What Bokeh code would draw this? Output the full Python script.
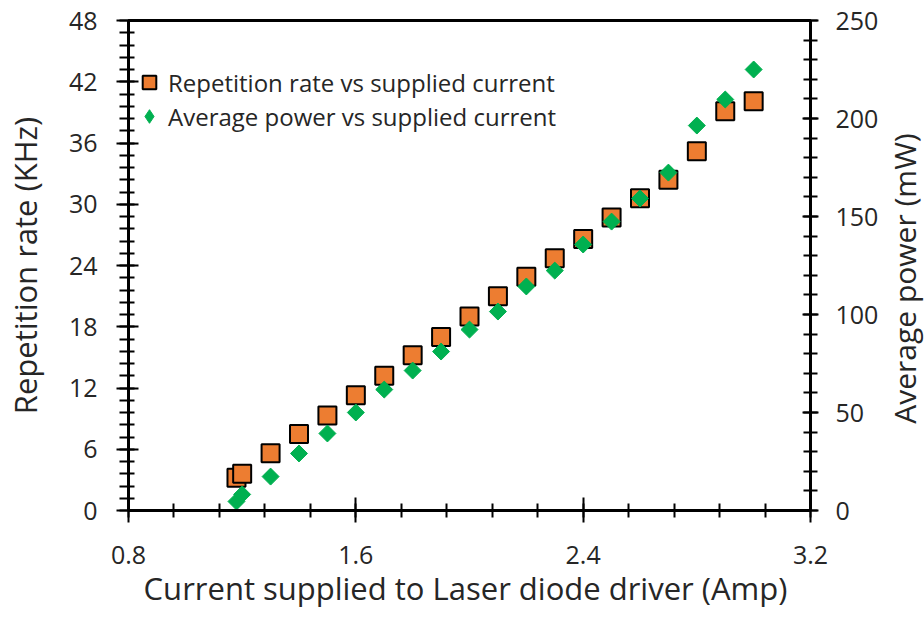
import math
from bokeh.plotting import figure
from bokeh.models import (Range1d, LinearAxis, FixedTicker, Legend, LegendItem,
                          ColumnDataSource, Label)
from bokeh.layouts import row
from bokeh.embed import file_html
from bokeh.resources import INLINE

# ---- data ----
current = [1.18, 1.2, 1.3, 1.4, 1.5, 1.6, 1.7, 1.8, 1.9, 2.0, 2.1, 2.2, 2.3,
           2.4, 2.5, 2.6, 2.7, 2.8, 2.9, 3.0]
rep_rate = [3.2, 3.6, 5.6, 7.5, 9.3, 11.3, 13.2, 15.2, 17.0, 19.0, 21.0, 22.9,
            24.7, 26.6, 28.7, 30.6, 32.4, 35.2, 39.1, 40.1]
avg_power = [4.6, 8.2, 17.3, 29.1, 39.3, 50.0, 61.7, 71.4, 81.1, 92.3, 101.5,
             114.3, 122.4, 135.7, 147.4, 159.2, 172.4, 196.4, 209.7, 225.0]

x_ticks = [0.8, 1.6, 2.4, 3.2]
left_ticks = [0, 6, 12, 18, 24, 30, 36, 42, 48]
right_ticks = [0, 50, 100, 150, 200, 250]

label_rep = "Repetition rate vs supplied current"
label_pow = "Average power vs supplied current"
x_title = "Current supplied to Laser diode driver  (Amp)"
y_title = "Repetition rate (KHz)"
y2_title = "Average power (mW)"

FONT = "Open Sans"
TXT = "#262626"

H = 620
W_MAIN, W_SIDE = 884, 40
BL, BR, BT, BB = 126, 74, 20, 110
FW, FH = W_MAIN - BL - BR, H - BT - BB

p = figure(width=W_MAIN, height=H, output_backend="svg", toolbar_location=None,
           x_range=Range1d(0.8, 3.2), y_range=Range1d(0, 48),
           min_border_left=BL, min_border_right=BR,
           min_border_top=BT, min_border_bottom=BB)
p.extra_y_ranges = {"power": Range1d(0, 250)}
p.grid.visible = False
p.outline_line_color = "black"
p.outline_line_width = 3

x_minor = [round(0.8 + 0.16 * i, 4) for i in range(16)]
l_minor = [round(1.2 * i, 4) for i in range(41)]
r_minor = list(range(0, 251, 10))

p.xaxis.ticker = FixedTicker(ticks=x_ticks, minor_ticks=x_minor)
p.yaxis.ticker = FixedTicker(ticks=left_ticks, minor_ticks=l_minor)

right = LinearAxis(y_range_name="power",
                   ticker=FixedTicker(ticks=right_ticks, minor_ticks=r_minor))
p.add_layout(right, "right")

def style(ax, mj_in, mj_out, mn_in, mn_out, standoff, lab_standoff, title):
    ax.axis_line_color = "black"
    ax.axis_line_width = 3
    ax.major_tick_line_color = "black"
    ax.major_tick_line_width = 2
    ax.minor_tick_line_color = "black"
    ax.minor_tick_line_width = 2
    ax.major_tick_in = mj_in
    ax.major_tick_out = mj_out
    ax.minor_tick_in = mn_in
    ax.minor_tick_out = mn_out
    ax.major_label_standoff = standoff
    ax.major_label_text_font = FONT
    ax.major_label_text_font_size = "25px"
    ax.major_label_text_color = TXT
    ax.axis_label = title
    ax.axis_label_standoff = lab_standoff
    ax.axis_label_text_font = FONT
    ax.axis_label_text_font_size = "31px"
    ax.axis_label_text_font_style = "normal"
    ax.axis_label_text_color = TXT

xa = p.xaxis[0]
ya = p.yaxis[0]
style(xa, 13, 12, 7, 7, 23, 0, x_title)
style(ya, 10, 12, 6, 9, 19, 20, y_title)
style(right, 8, 8, 7, 7, 17, 0, None)

src = ColumnDataSource(dict(x=current, rep=rep_rate, pw=avg_power))
r1 = p.scatter("x", "rep", source=src, marker="square", size=18,
               fill_color="#ED7D31", line_color="black", line_width=2)
# diamond glyph (hidden underneath) used for the legend entry
r2_leg = p.scatter("x", "pw", source=src, y_range_name="power",
                   marker="diamond", size=15, fill_color="#00B050",
                   line_color="#00B050", line_width=1)
r2 = p.scatter("x", "pw", source=src, y_range_name="power", marker="square",
               angle=math.pi / 4, size=12, fill_color="#00B050",
               line_color="#00B050", line_width=1)

leg = Legend(items=[LegendItem(label=label_rep, renderers=[r1]),
                    LegendItem(label=label_pow, renderers=[r2_leg])],
             location=(4, FH - 45 - 68), glyph_width=34, glyph_height=34,
             label_standoff=2, spacing=0, padding=0, margin=0,
             border_line_color=None, background_fill_alpha=0,
             label_text_font=FONT, label_text_font_size="24px",
             label_text_color=TXT)
p.add_layout(leg, "center")

# narrow side panel holding the right-hand axis title (reads bottom to top)
side = figure(width=W_SIDE, height=H, output_backend="svg",
              toolbar_location=None, x_axis_type=None, y_axis_type=None,
              x_range=Range1d(0, 1), y_range=Range1d(0, 1),
              min_border=0, outline_line_color=None)
side.grid.visible = False
side.add_layout(Label(x=20, y=(H - BB) - 278, x_units="screen",
                      y_units="screen", text=y2_title, angle=math.pi / 2,
                      text_font=FONT, text_font_size="30px", text_color=TXT,
                      text_align="center", text_baseline="middle"))

layout = row(p, side, spacing=0)
open("out.html", "w").write(file_html(layout, INLINE))
